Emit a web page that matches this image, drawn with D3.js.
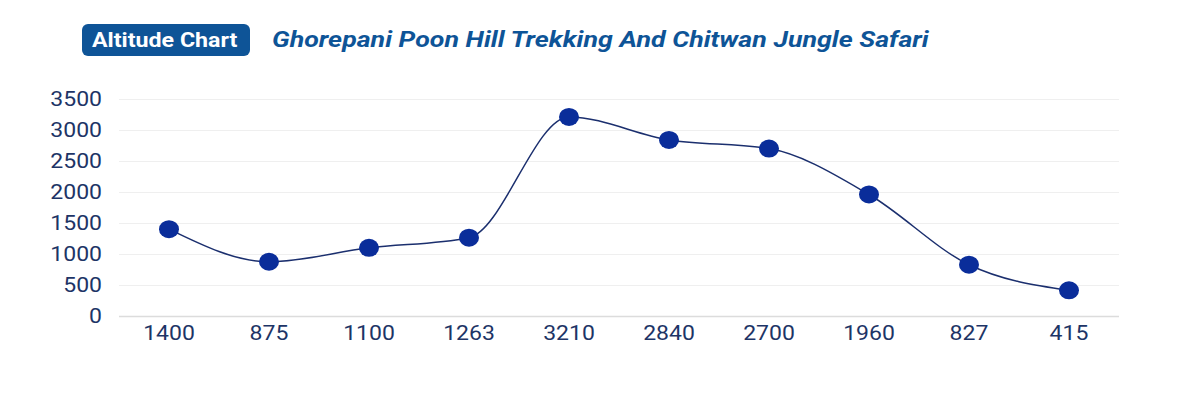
<!DOCTYPE html>
<html><head><meta charset="utf-8">
<script src="https://cdn.jsdelivr.net/npm/d3@7"></script>
<style>body{margin:0;background:#fff;} svg{display:block;font-family:Roboto,"Noto Sans",sans-serif;}</style>
</head><body>
<svg id="c" width="1201" height="400"></svg>
<script>
const categories = ["1400","875","1100","1263","3210","2840","2700","1960","827","415"];
const altitudes = [1400,875,1100,1263,3210,2840,2700,1960,827,415];
const yTicks = [0,500,1000,1500,2000,2500,3000,3500];
const badgeText = "Altitude Chart";
const titleText = "Ghorepani Poon Hill Trekking And Chitwan Jungle Safari";

const svg = d3.select("#c");
const x = d3.scaleBand().domain(categories).range([119,1119]);
const y = d3.scaleLinear().domain([0,3500]).range([316,99]);
const sx = 1.18;

// header
svg.append("rect").attr("x",82).attr("y",24).attr("width",168).attr("height",32).attr("rx",6).attr("fill","#0e5497");
svg.append("text").attr("transform","translate(92,47) scale(1.19,1)").attr("fill","#fff")
  .attr("font-size",19.5).attr("font-weight","bold").text(badgeText);
svg.append("text").attr("transform","translate(272,47) scale(1.245,1)").attr("fill","#0e5497").attr("font-size",21.5)
  .attr("font-weight","bold").attr("font-style","italic").text(titleText);

// grid
svg.append("g").selectAll("line").data(yTicks).join("line")
  .attr("x1",119).attr("x2",1119).attr("y1",d=>y(d)+0.5).attr("y2",d=>y(d)+0.5)
  .attr("stroke",d=>d===0?"#dcdcdc":"#efefef").attr("stroke-width",d=>d===0?1.5:1);

// y axis
const ya = svg.append("g").attr("transform","translate(119,0)")
  .call(d3.axisLeft(y).tickValues(yTicks).tickFormat(d3.format("d")).tickSize(0).tickPadding(17));
ya.select(".domain").remove();
ya.selectAll("text").attr("font-size",19.5).attr("font-weight",400).attr("fill","#1d3466")
  .attr("font-family","Roboto,sans-serif").attr("x",-17/sx).attr("transform",`scale(${sx},1)`);

// x axis
const xa = svg.append("g").attr("transform","translate(0,316)").call(d3.axisBottom(x).tickSize(0).tickPadding(10));
xa.select(".domain").remove();
xa.selectAll("text").attr("font-size",19.5).attr("font-weight",400).attr("fill","#1d3466")
  .attr("font-family","Roboto,sans-serif").attr("transform",`scale(${sx},1)`);

// line
const pts = categories.map((c,i)=>[x(c)+x.bandwidth()/2, y(altitudes[i])]);
svg.append("path").attr("d",d3.line().curve(d3.curveMonotoneX)(pts))
  .attr("fill","none").attr("stroke","#1b2f6e").attr("stroke-width",1.5);

svg.append("g").selectAll("ellipse").data(pts).join("ellipse")
  .attr("cx",d=>d[0]).attr("cy",d=>d[1]).attr("rx",10).attr("ry",9).attr("fill","#0a2d9a");
</script>
</body></html>
